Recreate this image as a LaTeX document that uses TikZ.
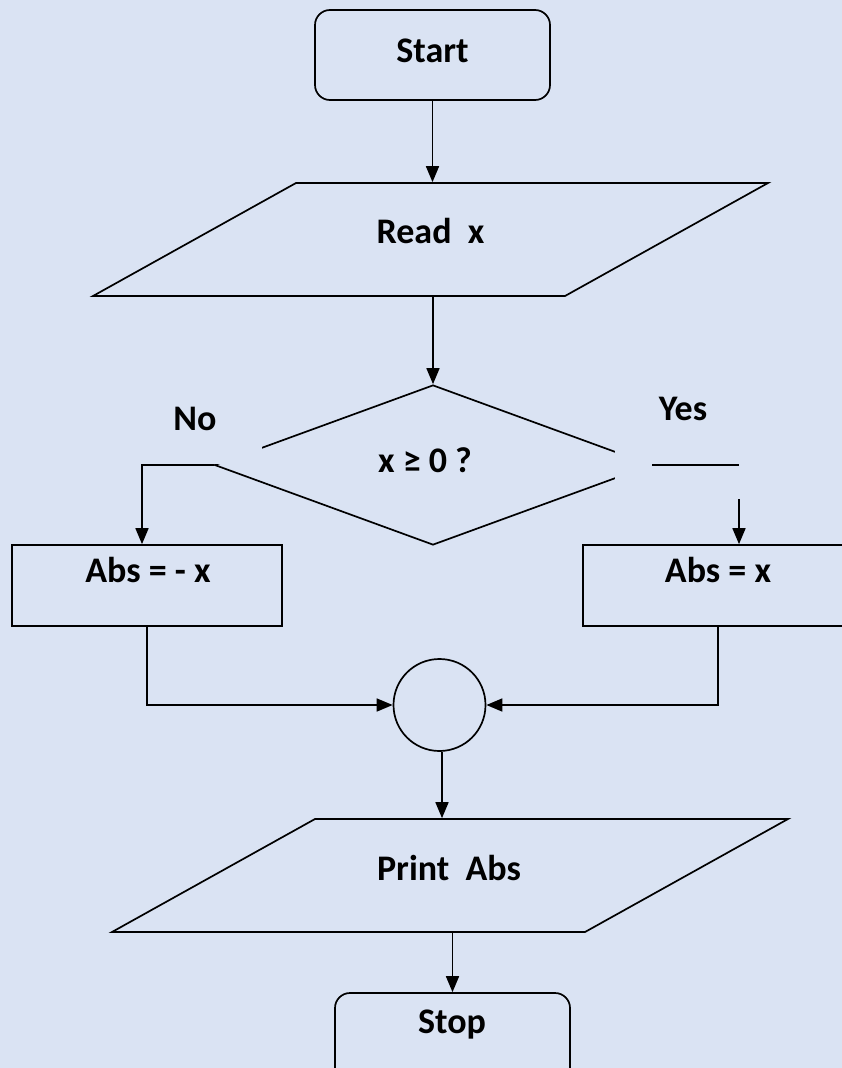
\documentclass[tikz,border=0pt]{standalone}
\usepackage{fontspec}
\setmainfont{Carlito}
\usetikzlibrary{arrows.meta,shapes.geometric}
\definecolor{bg}{HTML}{DAE3F3}
\begin{document}
\begin{tikzpicture}[x=1pt,y=-1pt,
  line width=1.7pt,
  txt/.style={anchor=base,inner sep=0pt,font=\fontsize{36}{40}\selectfont\bfseries},
  boxshape/.style={draw,rectangle,inner sep=0pt},
  roundshape/.style={draw,rectangle,rounded corners=15pt,inner sep=0pt},
  hidden/.style={rectangle,inner sep=0pt},
  arr/.style={-{Triangle[width=13pt,length=16pt]}}
]
\useasboundingbox (0,0) rectangle (842,1068);
\fill[bg] (0,0) rectangle (842,1068);

% Start
\node[roundshape,minimum width=235pt,minimum height=90pt] (start) at (432.5,55) {};
\node[txt] (tstart) at (432.5,62) {Start};

% Read x
\draw[line join=miter] (296,183) -- (768,183) -- (565,296) -- (93,296) -- cycle;
\node[hidden,minimum width=675pt,minimum height=113pt] (readx) at (430.5,239.5) {};
\node[txt] (treadx) at (430.5,243) {Read\ \ x};

% Decision
\node[draw,diamond,inner sep=0pt,minimum width=437pt,minimum height=160pt] (dec) at (433,465) {};
\fill[bg] (124,376) rectangle (262,464);
\fill[bg] (615,385) rectangle (752,499);
\node[txt] (tdec) at (425,472) {x ≥ 0 ?};
\node[txt] (tno) at (195,430) {No};
\node[txt] (tyes) at (683,420) {Yes};

% Abs boxes
\node[boxshape,minimum width=270pt,minimum height=81pt] (absneg) at (147,585.5) {};
\node[txt] (tabsneg) at (148,582) {Abs = - x};
\node[boxshape,minimum width=270pt,minimum height=81pt] (abspos) at (718,585.5) {};
\node[txt] (tabspos) at (718,582) {Abs = x};

% Merge circle
\node[draw,circle,inner sep=0pt,minimum size=92pt] (merge) at (439.5,705) {};

% Print Abs
\draw[line join=miter] (315,819) -- (788,819) -- (585,932) -- (112,932) -- cycle;
\node[hidden,minimum width=676pt,minimum height=113pt] (printabs) at (450,875.5) {};
\node[txt] (tprint) at (449,880) {Print\ \ Abs};

% Stop
\node[roundshape,minimum width=235pt,minimum height=90pt] (stop) at (452.5,1038) {};
\node[txt] (tstop) at (452,1033) {Stop};

% coordinates
\coordinate (nocorner) at (142,465);
\coordinate (yescorner) at (739,465);
\coordinate (yesgap) at (739,499);

% connectors
\draw[arr] (start.south) -- (start.south |- readx.north);
\draw[arr] (dec.north |- readx.south) -- (dec.north);
\draw[arr] (dec.west) -- (nocorner) -- (nocorner |- absneg.north);
\draw (dec.east) -- (yescorner);
\draw[arr] (yesgap) -- (yesgap |- abspos.north);
\draw[arr] (absneg.south) |- (merge.west);
\draw[arr] (abspos.south) |- (merge.east);
\draw[arr] ([xshift=2.5pt]merge.south) -- ([xshift=2.5pt]merge.south |- printabs.north);
\draw[arr] (stop.north |- printabs.south) -- (stop.north);
\end{tikzpicture}
\end{document}
